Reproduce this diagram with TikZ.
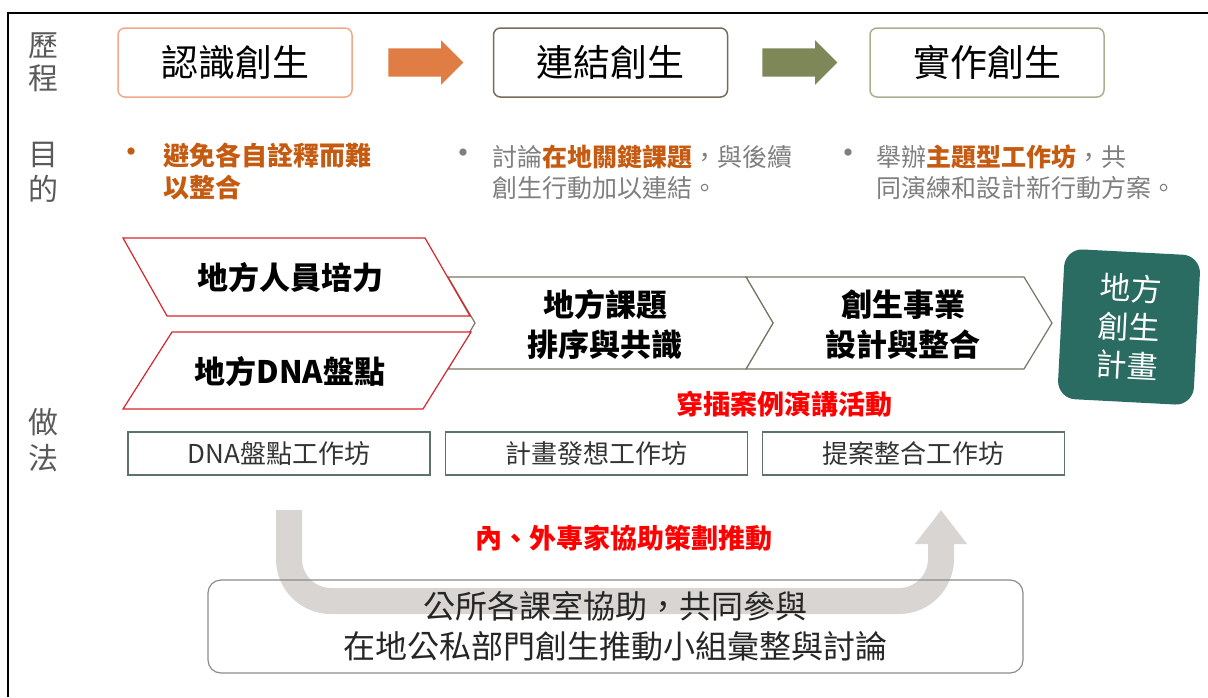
\documentclass[tikz,border=0pt]{standalone}
\usepackage{fontspec}
\setmainfont{Noto Sans CJK TC}
\usepackage{tikz}
\usetikzlibrary{arrows.meta,calc,positioning,shapes.arrows}

\definecolor{labelgray}{HTML}{5A5A5A}
\definecolor{boxorange}{HTML}{F0A987}
\definecolor{boxbrown}{HTML}{7B6A58}
\definecolor{boxolive}{HTML}{A9B092}
\definecolor{arroworange}{HTML}{DF7D45}
\definecolor{arrowolive}{HTML}{7D8757}
\definecolor{accent}{HTML}{C55A11}
\definecolor{aimgray}{HTML}{7F7F7F}
\definecolor{chevred}{HTML}{D7262E}
\definecolor{chevgray}{HTML}{7A7564}
\definecolor{plangreen}{HTML}{2A6B62}
\definecolor{wsborder}{HTML}{5E7268}
\definecolor{ugray}{HTML}{D9D5D3}
\definecolor{officegray}{HTML}{8C8C8C}

\newcommand\fsz[2]{\fontsize{#1}{#2}\selectfont}

\tikzset{
  rowlabel/.style={text=labelgray, align=center},
  stagebox/.style={draw, rounded corners=7pt, line width=1.5pt, minimum width=234pt,
    minimum height=69pt, font=\fsz{37}{40}},
  blockarrow/.style={single arrow, single arrow head extend=8pt, minimum height=75pt,
    inner xsep=0pt, inner ysep=14pt, draw=none},
  dot/.style={font=\fsz{34}{34}},
  aimtext/.style={anchor=west, align=left},
  chevtext/.style={align=center, font=\fsz{31}{40}\bfseries},
  workshop/.style={draw=wsborder, line width=1.2pt, minimum width=302pt, minimum height=43pt,
    text=black!80, font=\fsz{26}{30}},
  redtext/.style={text=red, font=\fsz{27}{30}\bfseries}
}

\begin{document}
\begin{tikzpicture}[x=1pt,y=-1pt]
\useasboundingbox (0,0) rectangle (1208,697);
\draw[line width=2.5pt] (8,697) -- (8,13) -- (1208,13);

\node[rowlabel, font=\fsz{30}{33}] (lab1) at (43,62) {歷\\程};
\node[rowlabel, font=\fsz{30}{35}] (lab2) at (43,172) {目\\的};
\node[rowlabel, font=\fsz{30}{36}] (lab3) at (43,440) {做\\法};

\node[stagebox, draw=boxorange] (s1) at (235,62.5) {認識創生};
\node[stagebox, draw=boxbrown] (s2) at (610.5,62.5) {連結創生};
\node[stagebox, draw=boxolive] (s3) at (987,62.5) {實作創生};
\node[blockarrow, fill=arroworange] (ar1) at ($(s1.east)!0.5!(s2.west)+(-4,0)$) {};
\node[blockarrow, fill=arrowolive] (ar2) at ($(s2.east)!0.5!(s3.west)+(-6,0)$) {};

\node[dot, text=accent] (d1) at (131,156) {•};
\node[aimtext, text=accent, font=\fsz{26}{32}\bfseries] (aim1) at (160,171) {避免各自詮釋而難\\以整合};
\node[dot, text=aimgray] (d2) at (463,157) {•};
\node[aimtext, text=aimgray, font=\fsz{25}{31}] (aim2) at (489,172)
  {討論\textcolor{accent}{\bfseries 在地關鍵課題}，與後續\\創生行動加以連結。};
\node[dot, text=aimgray] (d3) at (848,157) {•};
\node[aimtext, text=aimgray, font=\fsz{25}{31}] (aim3) at (873,172)
  {舉辦\textcolor{accent}{\bfseries 主題型工作坊}，共\\同演練和設計新行動方案。};

\filldraw[draw=chevgray, fill=white, line width=1.2pt]
  (746,277) -- (1024,277) -- (1052,323) -- (1024,369) -- (746,369) -- (773,323) -- cycle;
\filldraw[draw=chevgray, fill=white, line width=1.2pt]
  (448,277) -- (746,277) -- (773,323) -- (746,369) -- (448,369) -- (475,323) -- cycle;
\filldraw[draw=chevred, fill=white, line width=1.2pt]
  (123,238) -- (425,238) -- (470,316) -- (167,316) -- cycle;
\filldraw[draw=chevred, fill=white, line width=1.2pt]
  (172,332) -- (471,332) -- (423,409) -- (123,409) -- cycle;
\node[chevtext] (c1) at (290,278) {地方人員培力};
\node[chevtext] (c2) at (290,372) {地方DNA盤點};
\node[chevtext] (c3) at (605,325) {地方課題\\排序與共識};
\node[chevtext] (c4) at (903,325) {創生事業\\設計與整合};

\node[fill=plangreen, rounded corners=18pt, rotate=-3, minimum width=136pt, minimum height=150pt,
  text=white, align=center, font=\fsz{31}{38.5}] (plan) at (1129,327) {地方\\創生\\計畫};

\node[redtext] (talks) at (784,404) {穿插案例演講活動};

\node[workshop] (ws1) at (279,453.5) {DNA盤點工作坊};
\node[workshop, right=14pt of ws1] (ws2) {計畫發想工作坊};
\node[workshop, right=14pt of ws2] (ws3) {提案整合工作坊};

\coordinate (ustart) at (289,510);
\coordinate (uend) at (941,510);
\draw[ugray, line width=26pt, rounded corners=42pt, -{Triangle[width=50pt,length=34pt]}]
  (ustart) -- (289,601) -- (941,601) -- (uend);

\node[redtext] (experts) at (624,538) {內、外專家協助策劃推動};

\node[draw=officegray, line width=1.2pt, rounded corners=13pt, minimum width=815pt,
  minimum height=93pt, align=center, text=black!85, font=\fsz{32}{40}] (office) at (615.5,626.5)
  {公所各課室協助，共同參與\\在地公私部門創生推動小組彙整與討論};
\end{tikzpicture}
\end{document}
